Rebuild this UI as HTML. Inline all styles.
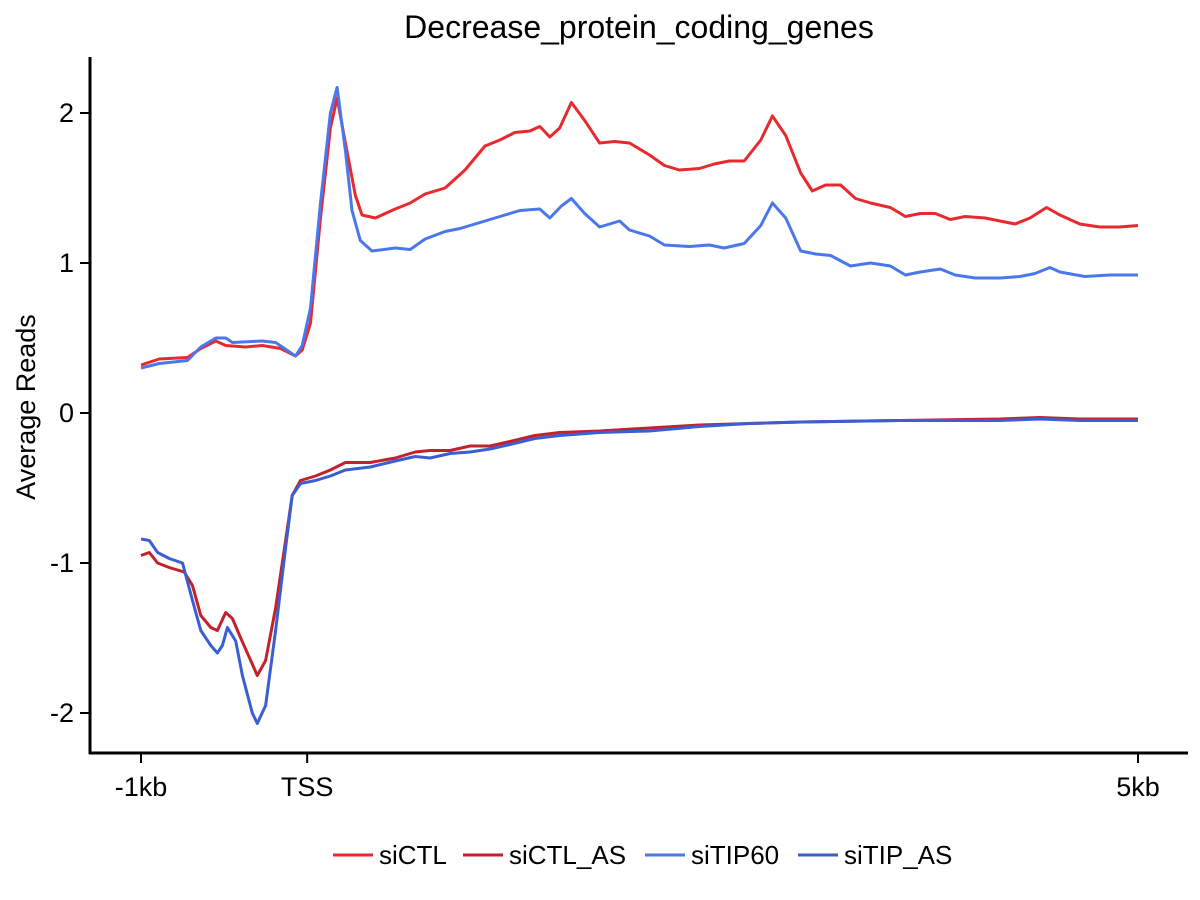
<!DOCTYPE html>
<html><head><meta charset="utf-8"><style>
body{margin:0;background:#fff}
svg{display:block;font-family:"Liberation Sans",Arial,sans-serif}
</style></head><body>
<svg id="chart" width="1200" height="900" viewBox="0 0 1200 900">
<rect width="1200" height="900" fill="#fff"/>
<text x="639" y="38" text-anchor="middle" font-size="32" fill="#000">Decrease_protein_coding_genes</text>
<text transform="translate(35,407) rotate(-90)" text-anchor="middle" font-size="27" fill="#000">Average Reads</text>
<g id="plot"></g>
<line x1="90" y1="57" x2="90" y2="754" stroke="#000" stroke-width="3"/>
<line x1="89" y1="753" x2="1188" y2="753" stroke="#000" stroke-width="3"/>
<g id="axes"></g>
<g id="legend"></g>
</svg>
<script>
const xTickVals=[-1,0,5];
const xTickLabels=["-1kb","TSS","5kb"];
const yTickVals=[2,1,0,-1,-2];
const yTickLabels=["2","1","0","-1","-2"];
const seriesNames=["siCTL","siCTL_AS","siTIP60","siTIP_AS"];
const xCTL=[-1.00,-0.89,-0.72,-0.64,-0.55,-0.49,-0.37,-0.27,-0.16,-0.07,-0.03,0.02,0.08,0.14,0.18,0.23,0.29,0.33,0.41,0.53,0.62,0.71,0.83,0.95,1.07,1.16,1.25,1.34,1.40,1.46,1.52,1.59,1.67,1.76,1.85,1.94,2.06,2.15,2.24,2.36,2.45,2.54,2.63,2.73,2.80,2.88,2.97,3.04,3.12,3.21,3.30,3.39,3.51,3.60,3.69,3.78,3.87,3.96,4.08,4.17,4.26,4.35,4.45,4.53,4.65,4.77,4.89,5.00];
const siCTL=[0.32,0.36,0.37,0.43,0.48,0.45,0.44,0.45,0.43,0.38,0.42,0.6,1.3,1.9,2.1,1.8,1.45,1.32,1.30,1.36,1.40,1.46,1.50,1.62,1.78,1.82,1.87,1.88,1.91,1.84,1.90,2.07,1.95,1.80,1.81,1.80,1.72,1.65,1.62,1.63,1.66,1.68,1.68,1.82,1.98,1.85,1.60,1.48,1.52,1.52,1.43,1.40,1.37,1.31,1.33,1.33,1.29,1.31,1.30,1.28,1.26,1.30,1.37,1.32,1.26,1.24,1.24,1.25];
const xTIP=[-1.00,-0.89,-0.72,-0.64,-0.55,-0.49,-0.45,-0.27,-0.19,-0.07,-0.03,0.02,0.08,0.14,0.18,0.23,0.27,0.32,0.39,0.53,0.62,0.71,0.83,0.92,1.04,1.16,1.28,1.40,1.46,1.53,1.59,1.67,1.76,1.88,1.94,2.06,2.15,2.30,2.42,2.51,2.63,2.73,2.80,2.88,2.97,3.06,3.15,3.27,3.39,3.51,3.60,3.69,3.81,3.90,4.02,4.17,4.29,4.38,4.47,4.53,4.68,4.83,5.00];
const siTIP60=[0.30,0.33,0.35,0.44,0.50,0.50,0.47,0.48,0.47,0.38,0.45,0.7,1.4,2.0,2.17,1.75,1.35,1.15,1.08,1.10,1.09,1.16,1.21,1.23,1.27,1.31,1.35,1.36,1.30,1.38,1.43,1.33,1.24,1.28,1.22,1.18,1.12,1.11,1.12,1.10,1.13,1.25,1.40,1.30,1.08,1.06,1.05,0.98,1.00,0.98,0.92,0.94,0.96,0.92,0.90,0.90,0.91,0.93,0.97,0.94,0.91,0.92,0.92];
const xCTLAS=[-1.00,-0.95,-0.90,-0.83,-0.74,-0.69,-0.64,-0.58,-0.54,-0.49,-0.45,-0.40,-0.34,-0.30,-0.25,-0.19,-0.13,-0.09,-0.04,0.05,0.14,0.23,0.38,0.53,0.65,0.74,0.86,0.98,1.10,1.22,1.37,1.52,1.76,2.06,2.36,2.66,2.97,3.57,4.17,4.41,4.65,5.00];
const siCTL_AS=[-0.95,-0.93,-1.0,-1.03,-1.06,-1.15,-1.35,-1.43,-1.45,-1.33,-1.37,-1.5,-1.65,-1.75,-1.65,-1.3,-0.85,-0.55,-0.45,-0.42,-0.38,-0.33,-0.33,-0.30,-0.26,-0.25,-0.25,-0.22,-0.22,-0.19,-0.15,-0.13,-0.12,-0.10,-0.08,-0.07,-0.06,-0.05,-0.04,-0.03,-0.04,-0.04];
const xTIPAS=[-1.00,-0.95,-0.90,-0.83,-0.75,-0.69,-0.64,-0.58,-0.54,-0.51,-0.48,-0.43,-0.39,-0.33,-0.30,-0.25,-0.19,-0.13,-0.09,-0.04,0.05,0.14,0.23,0.38,0.53,0.65,0.74,0.86,0.98,1.10,1.22,1.37,1.52,1.76,2.06,2.36,2.66,2.97,3.57,4.17,4.41,4.65,5.00];
const siTIP_AS=[-0.84,-0.85,-0.93,-0.97,-1.0,-1.25,-1.45,-1.55,-1.60,-1.55,-1.43,-1.52,-1.75,-2.0,-2.07,-1.95,-1.45,-0.9,-0.55,-0.47,-0.45,-0.42,-0.38,-0.36,-0.32,-0.29,-0.30,-0.27,-0.26,-0.24,-0.21,-0.17,-0.15,-0.13,-0.12,-0.09,-0.07,-0.06,-0.05,-0.05,-0.04,-0.05,-0.05];
const colors=["#e8292e","#c4222a","#4a78ec","#3a5fd2"];
const NS="http://www.w3.org/2000/svg";
function X(v){return 141+(v+1)*(1138-141)/6;}
function Y(v){return 413-v*150;}
const plot=document.getElementById('plot');
const data=[[xCTL,siCTL],[xCTLAS,siCTL_AS],[xTIP,siTIP60],[xTIPAS,siTIP_AS]];
const order=[1,3,0,2];
order.forEach(i=>{
  const [xs,ys]=data[i];
  const p=document.createElementNS(NS,'polyline');
  p.setAttribute('points',xs.map((x,k)=>X(x).toFixed(1)+','+Y(ys[k]).toFixed(1)).join(' '));
  p.setAttribute('fill','none');p.setAttribute('stroke',colors[i]);
  p.setAttribute('stroke-width','3');p.setAttribute('stroke-linejoin','round');
  
  
  plot.appendChild(p);
});
const axes=document.getElementById('axes');
xTickVals.forEach((v,k)=>{
  const l=document.createElementNS(NS,'line');
  l.setAttribute('x1',X(v));l.setAttribute('x2',X(v));l.setAttribute('y1',753);l.setAttribute('y2',763);
  l.setAttribute('stroke','#000');l.setAttribute('stroke-width','2');
  
  
  axes.appendChild(l);
  const t=document.createElementNS(NS,'text');
  t.setAttribute('x',X(v));t.setAttribute('y',796);t.setAttribute('text-anchor','middle');t.setAttribute('font-size','27');
  t.textContent=xTickLabels[k];
  
  
  axes.appendChild(t);
});
yTickVals.forEach((v,k)=>{
  const l=document.createElementNS(NS,'line');
  l.setAttribute('x1',80);l.setAttribute('x2',90);l.setAttribute('y1',Y(v));l.setAttribute('y2',Y(v));
  l.setAttribute('stroke','#000');l.setAttribute('stroke-width','2');
  
  
  axes.appendChild(l);
  const t=document.createElementNS(NS,'text');
  t.setAttribute('x',74);t.setAttribute('y',Y(v)+9);t.setAttribute('text-anchor','end');t.setAttribute('font-size','27');
  t.textContent=yTickLabels[k];
  
  
  axes.appendChild(t);
});
const legend=document.getElementById('legend');
const lx=[333,463,645,798];
seriesNames.forEach((n,i)=>{
  const g=document.createElementNS(NS,'g');
  
  
  const l=document.createElementNS(NS,'line');
  l.setAttribute('x1',lx[i]);l.setAttribute('x2',lx[i]+40);l.setAttribute('y1',855);l.setAttribute('y2',855);
  l.setAttribute('stroke',colors[i]);l.setAttribute('stroke-width','3');
  g.appendChild(l);
  const t=document.createElementNS(NS,'text');
  t.setAttribute('x',lx[i]+46);t.setAttribute('y',864);t.setAttribute('font-size','26');
  t.textContent=n;
  g.appendChild(t);
  legend.appendChild(g);
});
</script>
</body></html>
